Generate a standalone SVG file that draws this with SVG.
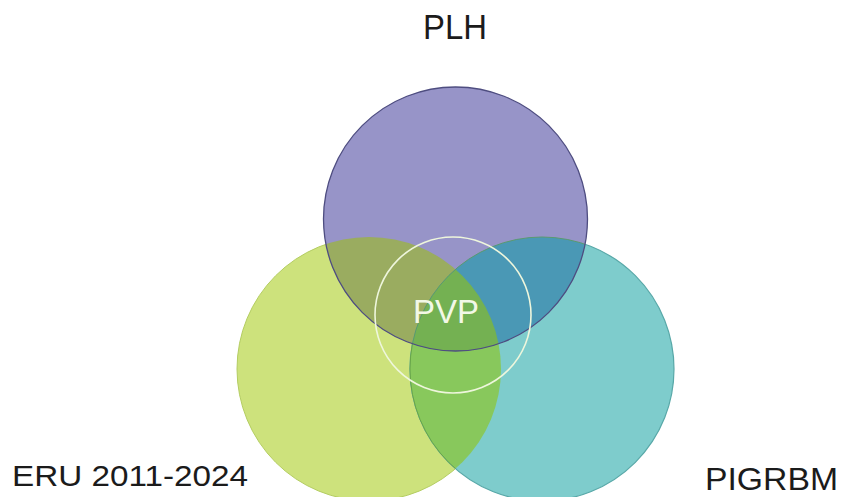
<svg xmlns="http://www.w3.org/2000/svg" width="843" height="497" viewBox="0 0 843 497">
<style>
.lbl{font-family:"Liberation Sans",Arial,sans-serif;fill:#1b1b1b;}
.pvp{font-family:"Liberation Sans",Arial,sans-serif;fill:#f2f8e6;}
</style>
<defs>
<clipPath id="cP"><circle cx="455.5" cy="219" r="132"/></clipPath>
<clipPath id="cG"><circle cx="369" cy="369" r="132"/></clipPath>
<clipPath id="cT"><circle cx="542" cy="369" r="132"/></clipPath>
</defs>
<rect width="843" height="497" fill="#ffffff"/>
<g id="eru">
<circle cx="369" cy="369" r="132" fill="#cde27c" stroke="#b4cd62" stroke-width="1"/>
</g>
<g id="pigrbm">
<circle cx="542" cy="369" r="132" fill="#7ecccc" stroke="#58a8a8" stroke-width="1.2"/>
<g clip-path="url(#cG)"><circle cx="542" cy="369" r="132" fill="#88c85c" stroke="#6aa646" stroke-width="1"/></g>
</g>
<g id="plh">
<circle cx="455.5" cy="219" r="132" fill="#9794c8"/>
<g clip-path="url(#cG)"><circle cx="455.5" cy="219" r="132" fill="#9aac60"/></g>
<g clip-path="url(#cT)"><circle cx="455.5" cy="219" r="132" fill="#4a98b5"/></g>
<g clip-path="url(#cG)"><g clip-path="url(#cT)"><circle cx="455.5" cy="219" r="132" fill="#74b152"/></g></g>
<g clip-path="url(#cP)"><circle cx="542" cy="369" r="132" fill="none" stroke="#5a9a70" stroke-width="1"/></g>
<circle cx="455.5" cy="219" r="132" fill="none" stroke="#4e4d80" stroke-width="1.3"/>
</g>
<g id="pvp">
<circle cx="453" cy="315" r="78" fill="none" stroke="#eef6dc" stroke-width="1.6"/>
<text class="pvp" x="446" y="323" font-size="33" text-anchor="middle" textLength="66" lengthAdjust="spacingAndGlyphs">PVP</text>
</g>
<g id="labels">
<text class="lbl" x="455" y="39" font-size="35" text-anchor="middle" textLength="64" lengthAdjust="spacingAndGlyphs">PLH</text>
<text class="lbl" x="12" y="486" font-size="30" textLength="236" lengthAdjust="spacingAndGlyphs">ERU 2011-2024</text>
<text class="lbl" x="705" y="490" font-size="31" textLength="133" lengthAdjust="spacingAndGlyphs">PIGRBM</text>
</g>
</svg>
